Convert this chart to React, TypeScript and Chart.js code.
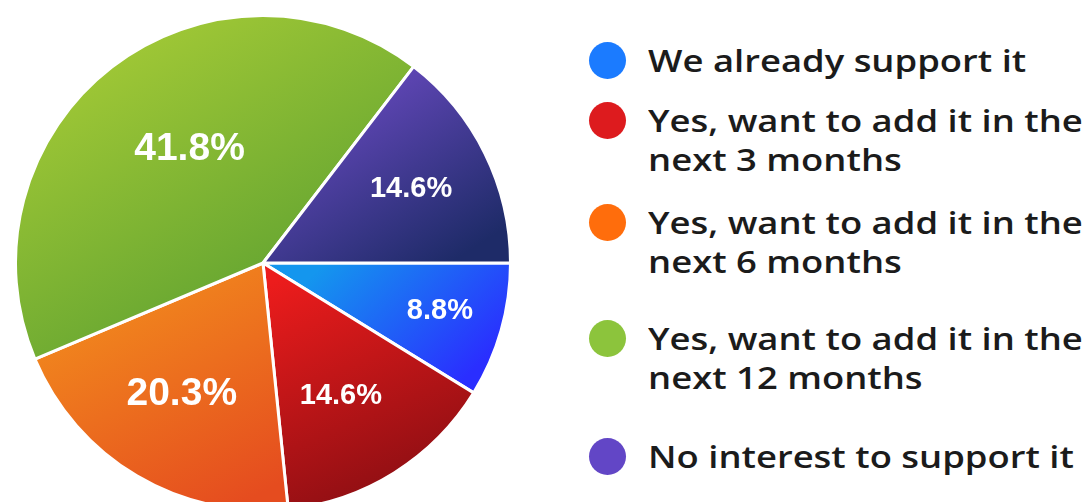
import React, { useEffect, useRef } from "react";
import { Chart, registerables } from "chart.js";

Chart.register(...registerables);

// ---- data ----
const categories: string[] = [
  "We already support it",
  "Yes, want to add it in the next 3 months",
  "Yes, want to add it in the next 6 months",
  "Yes, want to add it in the next 12 months",
  "No interest to support it",
];
const legendLines: string[][] = [
  ["We already support it"],
  ["Yes, want to add it in the", "next 3 months"],
  ["Yes, want to add it in the", "next 6 months"],
  ["Yes, want to add it in the", "next 12 months"],
  ["No interest to support it"],
];
const shares: number[] = [8.8, 14.6, 20.3, 41.8, 14.6];
const shareLabels: string[] = ["8.8%", "14.6%", "20.3%", "41.8%", "14.6%"];

// ---- style ----
const legendColors = ["#1b7bff", "#dd1b1e", "#ff6d0c", "#8cc43c", "#6246c6"];
const lightStops = ["#1496ee", "#ec1c1c", "#f3901d", "#a6cb36", "#6e4cc6"];
const darkStops = ["#2a2eff", "#840d12", "#e54c1f", "#559c30", "#1e2b68"];
const labelRadius = [0.74, 0.62, 0.62, 0.55, 0.67];
const labelAngleNudge = [-0.8, 1.6, 1.3, 5, -0.5];
const labelFont = [29, 29, 39, 39, 29];
const legendTops = [60.5, 120.5, 222, 338.5, 456.5];

function sliceGradient(c: any) {
  const chart = c.chart;
  const i = c.dataIndex;
  const area = chart.chartArea;
  if (!area || i === undefined) return lightStops[i ?? 0];
  const total = shares.reduce((a, b) => a + b, 0);
  const cx = (area.left + area.right) / 2;
  const cy = (area.top + area.bottom) / 2;
  const r = Math.min(area.width, area.height) / 2;
  let start = 0;
  for (let j = 0; j < i; j++) start += (shares[j] / total) * Math.PI * 2;
  const end = start + (shares[i] / total) * Math.PI * 2;
  let x0 = cx, x1 = cx, y0 = cy, y1 = cy;
  for (let k = 0; k <= 48; k++) {
    const a = start + ((end - start) * k) / 48;
    const x = cx + r * Math.cos(a);
    const y = cy + r * Math.sin(a);
    x0 = Math.min(x0, x); x1 = Math.max(x1, x);
    y0 = Math.min(y0, y); y1 = Math.max(y1, y);
  }
  const w = x1 - x0;
  const g = chart.ctx.createLinearGradient(x0 + w * 0.25, y0, x0 + w * 0.75, y1);
  g.addColorStop(0, lightStops[i]);
  g.addColorStop(1, darkStops[i]);
  return g;
}

const sliceLabelPlugin = {
  id: "sliceLabels",
  afterDatasetsDraw(chart: any) {
    const meta = chart.getDatasetMeta(0);
    const ctx = chart.ctx;
    ctx.save();
    ctx.fillStyle = "#ffffff";
    ctx.textAlign = "center";
    ctx.textBaseline = "middle";
    meta.data.forEach((arc: any, i: number) => {
      const p = arc.getProps(["x", "y", "startAngle", "endAngle", "outerRadius"], true);
      const mid = (p.startAngle + p.endAngle) / 2 + (labelAngleNudge[i] * Math.PI) / 180;
      const rr = p.outerRadius * labelRadius[i];
      ctx.font = `bold ${labelFont[i]}px "Liberation Sans", Arial, sans-serif`;
      ctx.fillText(shareLabels[i], p.x + rr * Math.cos(mid), p.y + rr * Math.sin(mid) + 1);
    });
    ctx.restore();
  },
};

const LEGEND_FONT = 31;
const LEGEND_LINE = 39;

export default function App() {
  const canvasRef = useRef<HTMLCanvasElement | null>(null);

  useEffect(() => {
    if (!canvasRef.current) return;
    const chart = new Chart(canvasRef.current, {
      type: "pie",
      data: {
        labels: categories,
        datasets: [
          {
            data: shares,
            backgroundColor: sliceGradient as any,
            borderColor: "#ffffff",
            borderWidth: 3,
          },
        ],
      },
      options: {
        responsive: false,
        animation: false,
        rotation: 90,
        layout: { padding: 0 },
        plugins: {
          legend: { display: false },
          tooltip: { enabled: false },
        },
      },
      plugins: [sliceLabelPlugin],
    });
    return () => chart.destroy();
  }, []);

  const baselineOffset = LEGEND_LINE / 2 + 0.388 * LEGEND_FONT;

  return (
    <div
      style={{
        position: "fixed",
        left: 0,
        top: 0,
        width: 1090,
        height: 502,
        overflow: "hidden",
        background: "#ffffff",
      }}
    >
      <canvas
        ref={canvasRef}
        width={498}
        height={498}
        style={{ position: "absolute", left: 14, top: 14, width: 498, height: 498 }}
      />
      {legendLines.map((lines, i) => (
        <div key={i}>
          <div
            style={{
              position: "absolute",
              left: 589,
              top: legendTops[i] - 18.5,
              width: 37,
              height: 37,
              borderRadius: "50%",
              background: legendColors[i],
            }}
          />
          <div
            style={{
              position: "absolute",
              left: 648,
              top: legendTops[i] + 12.5 - baselineOffset,
              fontFamily: '"Open Sans", sans-serif',
              fontWeight: 600,
              fontSize: LEGEND_FONT,
              lineHeight: `${LEGEND_LINE}px`,
              color: "#1b1b1b",
              whiteSpace: "nowrap",
              transform: "scaleX(1.175)",
              transformOrigin: "0 0",
            }}
          >
            {lines.map((t, k) => (
              <div key={k}>{t}</div>
            ))}
          </div>
        </div>
      ))}
    </div>
  );
}
